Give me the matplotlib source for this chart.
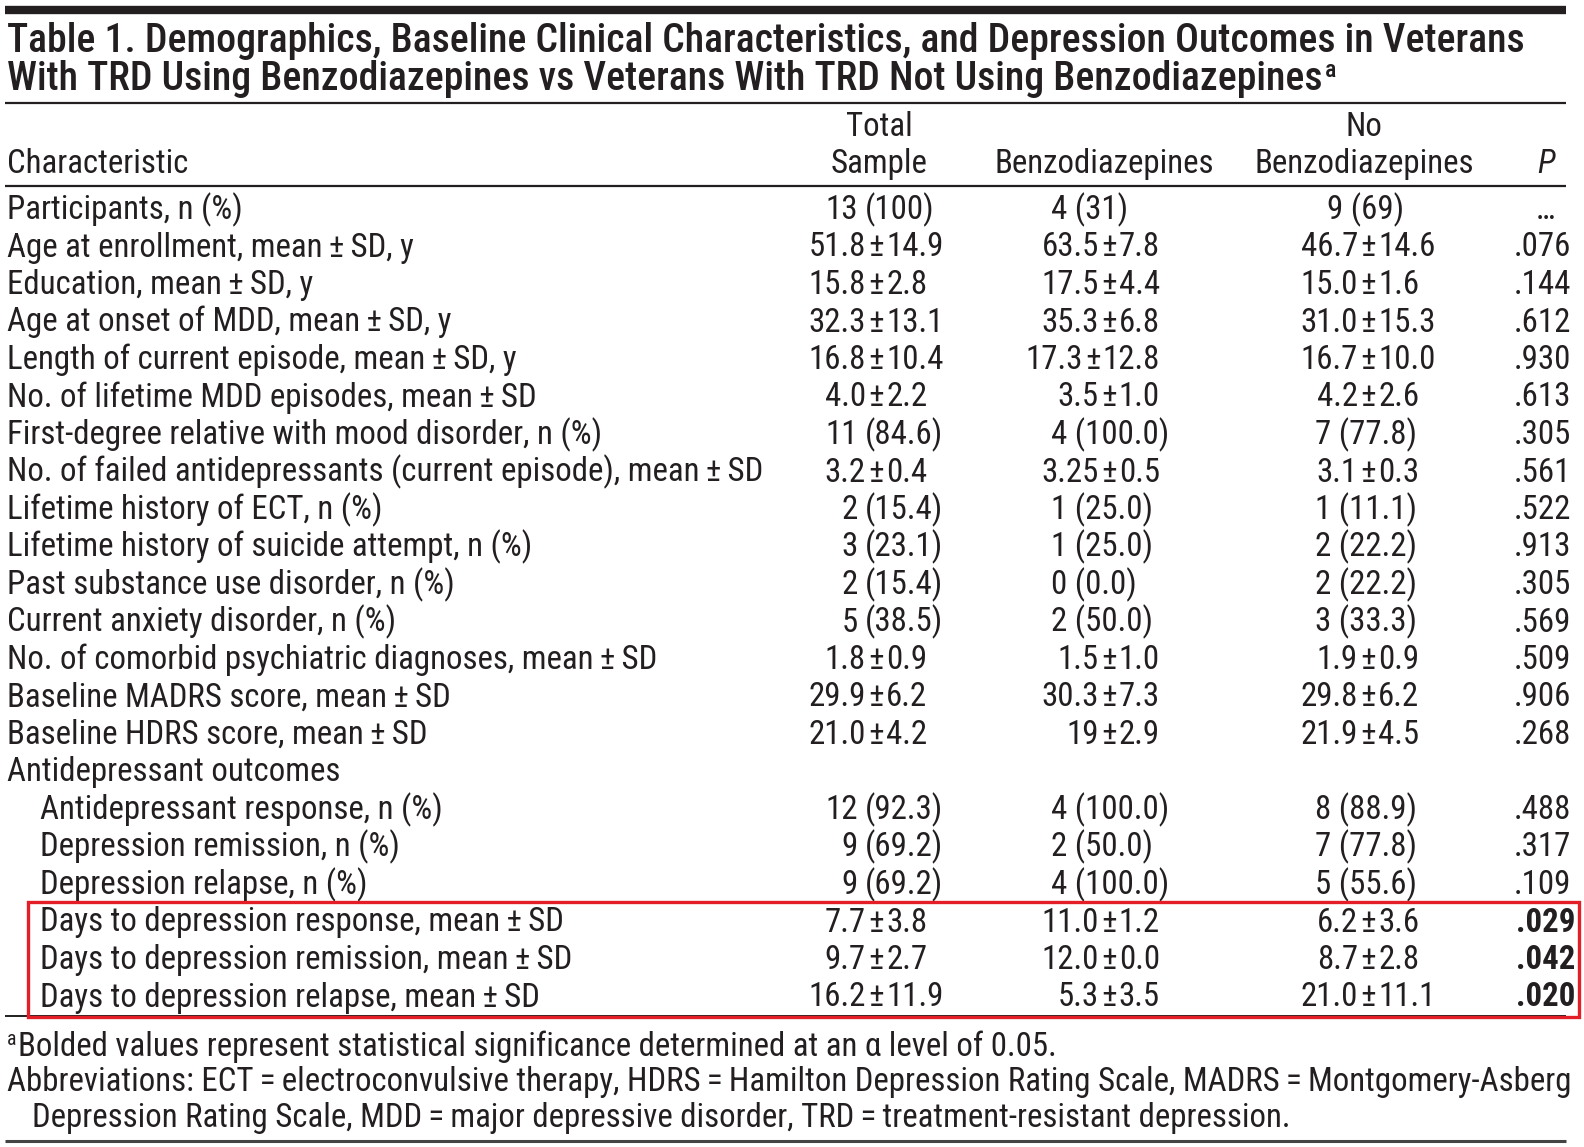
import matplotlib
matplotlib.use("Agg")
import matplotlib.pyplot as plt
from matplotlib import font_manager
from matplotlib.font_manager import FontProperties
from matplotlib.patches import Rectangle

# table contents
title_lines = [
    "Table 1. Demographics, Baseline Clinical Characteristics, and Depression Outcomes in Veterans",
    "With TRD Using Benzodiazepines vs Veterans With TRD Not Using Benzodiazepines",
]
header_top = ["", "Total", "", "No", ""]
header_bottom = ["Characteristic", "Sample", "Benzodiazepines", "Benzodiazepines", "P"]

PM = "\u2009±\u2009"
characteristics = [
    "Participants, n (%)",
    f"Age at enrollment, mean{PM}SD, y",
    f"Education, mean{PM}SD, y",
    f"Age at onset of MDD, mean{PM}SD, y",
    f"Length of current episode, mean{PM}SD, y",
    f"No. of lifetime MDD episodes, mean{PM}SD",
    "First-degree relative with mood disorder, n (%)",
    f"No. of failed antidepressants (current episode), mean{PM}SD",
    "Lifetime history of ECT, n (%)",
    "Lifetime history of suicide attempt, n (%)",
    "Past substance use disorder, n (%)",
    "Current anxiety disorder, n (%)",
    f"No. of comorbid psychiatric diagnoses, mean{PM}SD",
    f"Baseline MADRS score, mean{PM}SD",
    f"Baseline HDRS score, mean{PM}SD",
    "Antidepressant outcomes",
    "Antidepressant response, n (%)",
    "Depression remission, n (%)",
    "Depression relapse, n (%)",
    f"Days to depression response, mean{PM}SD",
    f"Days to depression remission, mean{PM}SD",
    f"Days to depression relapse, mean{PM}SD",
]
indented = [False] * 16 + [True] * 6

total = ["13 (100)", "51.8±14.9", "15.8±2.8", "32.3±13.1", "16.8±10.4", "4.0±2.2",
         "11 (84.6)", "3.2±0.4", "2 (15.4)", "3 (23.1)", "2 (15.4)", "5 (38.5)",
         "1.8±0.9", "29.9±6.2", "21.0±4.2", "", "12 (92.3)", "9 (69.2)", "9 (69.2)",
         "7.7±3.8", "9.7±2.7", "16.2±11.9"]
benzo = ["4 (31)", "63.5±7.8", "17.5±4.4", "35.3±6.8", "17.3±12.8", "3.5±1.0",
         "4 (100.0)", "3.25±0.5", "1 (25.0)", "1 (25.0)", "0 (0.0)", "2 (50.0)",
         "1.5±1.0", "30.3±7.3", "19±2.9", "", "4 (100.0)", "2 (50.0)", "4 (100.0)",
         "11.0±1.2", "12.0±0.0", "5.3±3.5"]
no_benzo = ["9 (69)", "46.7±14.6", "15.0±1.6", "31.0±15.3", "16.7±10.0", "4.2±2.6",
            "7 (77.8)", "3.1±0.3", "1 (11.1)", "2 (22.2)", "2 (22.2)", "3 (33.3)",
            "1.9±0.9", "29.8±6.2", "21.9±4.5", "", "8 (88.9)", "7 (77.8)", "5 (55.6)",
            "6.2±3.6", "8.7±2.8", "21.0±11.1"]
p_values = ["…", ".076", ".144", ".612", ".930", ".613", ".305", ".561", ".522", ".913",
            ".305", ".569", ".509", ".906", ".268", "", ".488", ".317", ".109",
            ".029", ".042", ".020"]
significant = [False] * 19 + [True] * 3
highlight_rows = [19, 20, 21]

footnote = "Bolded values represent statistical significance determined at an α level of 0.05."
abbreviations = [
    "Abbreviations: ECT\u2009=\u2009electroconvulsive therapy, HDRS\u2009=\u2009Hamilton Depression Rating Scale, MADRS\u2009=\u2009Montgomery-Asberg",
    "Depression Rating Scale, MDD\u2009=\u2009major depressive disorder, TRD\u2009=\u2009treatment-resistant depression.",
]

W, H = 1584, 1147
INK = "#231f20"
RED = "#e31e26"


def weight_of(f):
    w = f.weight
    return w if isinstance(w, int) else font_manager.weight_dict.get(w, 400)


def pick_condensed():
    # the original uses a condensed face; look for one that is installed
    narrow = [f for f in font_manager.fontManager.ttflist
              if f.stretch in ("condensed", "semi-condensed", "extra-condensed")
              or "Condensed" in f.name or "Narrow" in f.name]
    order = ["Noto Sans", "Open Sans", "Roboto", "DejaVu Sans", "Liberation Sans", "Lato", "Inter"]
    groups = {}
    for f in narrow:
        if "Mono" in f.name or "CJK" in f.name or "Serif" in f.name:
            continue
        groups.setdefault((f.name, f.stretch), []).append(f)
    best = None
    for key, fs in groups.items():
        upright = [f for f in fs if f.style == "normal"]
        reg = [f for f in upright if weight_of(f) == 400]
        bold = [f for f in upright if weight_of(f) == 700]
        semi = sorted([f for f in upright if weight_of(f) in (600, 500, 700)],
                      key=lambda f: [600, 500, 700].index(weight_of(f)))
        ital = [f for f in fs if f.style == "italic" and weight_of(f) == 400]
        if not reg or not bold:
            continue
        rank = (next((i for i, o in enumerate(order) if key[0].startswith(o)), 99),
                key[1] != "condensed")
        if best is None or rank < best[0]:
            best = (rank, reg[0], bold[0], semi[0], ital[0] if ital else reg[0])
    if best is None:
        return (FontProperties(family="DejaVu Sans"),
                FontProperties(family="DejaVu Sans", weight="bold"),
                FontProperties(family="DejaVu Sans", weight="bold"),
                FontProperties(family="DejaVu Sans", style="italic"))
    return tuple(FontProperties(fname=f.fname) for f in best[1:])


FP_REG, FP_BOLD, FP_SEMI, FP_ITAL = pick_condensed()

fig = plt.figure(figsize=(W / 100, H / 100), dpi=100)
ax = fig.add_axes([0, 0, 1, 1])
ax.set_xlim(0, W)
ax.set_ylim(H, 0)
ax.axis("off")
renderer = fig.canvas.get_renderer()


def props(fp, size):
    p = fp.copy()
    p.set_size(size)
    return p


def width_px(s, fp, size):
    t = ax.text(0, 0, s, fontproperties=props(fp, size))
    w = t.get_window_extent(renderer).width
    t.remove()
    return w


# fit sizes to the reference widths
body = 20 * 756 / width_px(characteristics[7], FP_REG, 20)
title = 20 * 1519 / width_px(title_lines[0], FP_SEMI, 20)


def put(x, y, s, ha="left", size=None, fp=None):
    return ax.text(x, y, s, ha=ha, va="baseline", color=INK,
                   fontproperties=props(fp or FP_REG, size or body))


def put_value(x_pm, x_n, y, s, pm_mode, n_mode):
    if not s:
        return
    if "±" in s:
        mean, sd = s.split("±")
        if pm_mode == "right":
            # shift the sign so the whole value ends at x_pm
            x_pm = x_pm - width_px(sd, FP_REG, body) - 10
        put(x_pm - 10, y, mean, ha="right")
        put(x_pm, y, "±", ha="center")
        put(x_pm + 10, y, sd, ha="left")
    elif n_mode == "paren":
        count, pct = s.split(" ", 1)
        put(x_n - 7, y, count, ha="right")
        put(x_n, y, pct, ha="left")
    else:
        put(x_n, y, s, ha=n_mode)


# rules
ax.plot([5, 1566], [10, 10], color=INK, lw=6, solid_capstyle="butt")
ax.plot([5, 1566], [103, 103], color=INK, lw=1.6, solid_capstyle="butt")
ax.plot([5, 1566], [186, 186], color=INK, lw=1.6, solid_capstyle="butt")
ax.plot([5, 1566], [1016, 1016], color=INK, lw=1.4, solid_capstyle="butt")
ax.plot([5, 1566], [1141, 1141], color="#444444", lw=2.2, solid_capstyle="butt")

# title
put(7, 52, title_lines[0], size=title, fp=FP_SEMI)
t2 = put(7, 90, title_lines[1], size=title, fp=FP_SEMI)
x_end = t2.get_window_extent(renderer).x1
put(x_end + 2, 77, "a", size=title * 0.6, fp=FP_SEMI)

# header
header_x = [7, 879, 1104, 1364, 1546]
header_ha = ["left", "center", "center", "center", "center"]
for x, ha, top, bot in zip(header_x, header_ha, header_top, header_bottom):
    if top:
        put(x, 136, top, ha=ha)
    put(x, 173, bot, ha=ha, fp=FP_ITAL if bot == "P" else FP_REG)

# body rows
for i, label in enumerate(characteristics):
    y = 219 + i * 37.5
    put(40 if indented[i] else 7, y, label)
    put_value(876, 865, y, total[i], "align", "paren")
    put_value(1160, 1051, y, benzo[i], "right", "left")
    put_value(1368, 1366, y, no_benzo[i], "align", "center")
    if p_values[i] == "…":
        put(1546, y, p_values[i], ha="center")
    elif p_values[i]:
        put(1575 if significant[i] else 1571, y, p_values[i], ha="right",
            fp=FP_BOLD if significant[i] else FP_REG)

# red highlight around the significant rows
top = 219 + highlight_rows[0] * 37.5 - 30
bottom = 219 + highlight_rows[-1] * 37.5 + 10
ax.add_patch(Rectangle((28, top), 1551, bottom - top, fill=False, ec=RED, lw=2.4, zorder=5))

# footnotes
put(7, 1045, "a", size=body * 0.6)
put(18, 1056, footnote)
put(7, 1091, abbreviations[0])
put(32, 1127, abbreviations[1])

fig.savefig("out.png", dpi=100)
